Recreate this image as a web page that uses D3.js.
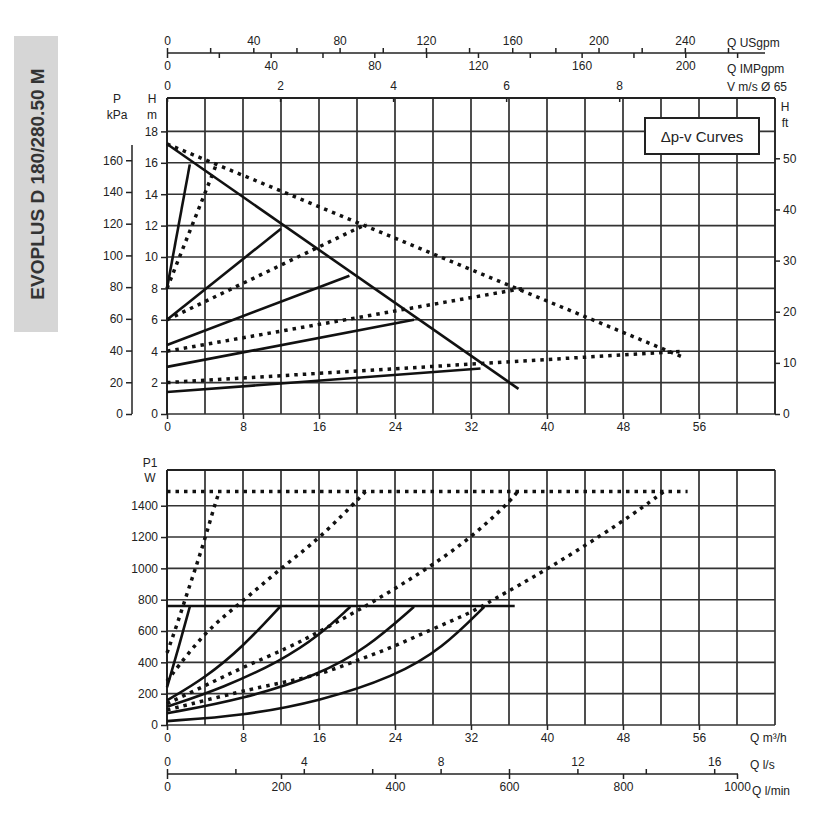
<!DOCTYPE html>
<html lang="en">
<head>
<meta charset="UTF-8">
<title>EVOPLUS D 180/280.50 M</title>
<script src="https://d3js.org/d3.v7.min.js"></script>
<style>
  body { margin: 0; background: #fff; font-family: "Liberation Sans", Arial, sans-serif; }
  text { fill: #222; }
  .tick text { font-size: 12px; }
</style>
</head>
<body>
<svg id="chart" width="840" height="840"></svg>
<script>
// ---- data ----
var maxHead = [[0, 17.2], [37, 1.6]];
var maxHeadDotted = [[0, 17.2], [54.4, 3.6]];
var headSolid = [
  [[0, 8], [2.4, 15.9]],
  [[0, 6], [12, 11.8]],
  [[0, 4.4], [19.2, 8.8]],
  [[0, 3.0], [26, 6.0]],
  [[0, 1.4], [33, 2.9]]
];
var headDotted = [
  [[0, 8], [5.2, 15.9]],
  [[0, 6], [21, 12.1]],
  [[0, 4], [37.5, 8.0]],
  [[0, 2], [54.4, 4.0]]
];
var powerMax = [[0, 760], [36.6, 760]];
var powerMaxDotted = [[0, 1490], [54.8, 1490]];
var powerSolid = [
  [[0, 240], [1.2, 490], [2.4, 755]],
  [[0, 157], [4, 300], [8, 500], [11.9, 755]],
  [[0, 116], [6, 240], [12, 410], [16, 570], [19.3, 755]],
  [[0, 75], [8, 165], [16, 320], [21, 490], [26, 755]],
  [[0, 25], [8, 60], [16, 150], [24, 310], [29, 490], [33.4, 755]]
];
var powerDotted = [
  [[0, 460], [1, 630], [2, 820], [3, 1000], [4, 1190], [5, 1400], [5.5, 1490]],
  [[0, 280], [4, 600], [8, 790], [12, 1003], [16, 1186], [20.9, 1490]],
  [[0, 137], [4, 250], [8, 370], [12.8, 493], [16, 595], [20, 727], [24, 870], [28, 1023], [32, 1196], [36, 1420], [36.9, 1490]],
  [[0, 96], [8, 218], [12, 269], [16, 320], [20, 412], [24, 503], [28, 615], [32, 717], [34, 789], [40, 992], [48, 1298], [52.3, 1490]]
];
var qTicks = [0, 8, 16, 24, 32, 40, 48, 56];
var usgpmTicks = [0, 40, 80, 120, 160, 200, 240];
var impTicks = [0, 40, 80, 120, 160, 200];
var velTicks = [0, 2, 4, 6, 8];
var hTicks = [0, 2, 4, 6, 8, 10, 12, 14, 16, 18];
var kpaTicks = [0, 20, 40, 60, 80, 100, 120, 140, 160];
var ftTicks = [0, 10, 20, 30, 40, 50];
var pTicks = [0, 200, 400, 600, 800, 1000, 1200, 1400];
var lsTicks = [0, 4, 8, 12, 16];
var lminTicks = [0, 200, 400, 600, 800, 1000];

// ---- layout ----
var svg = d3.select("#chart");
var L = 167, R = 775;
var top1 = 98, bot1 = 414, top2 = 470, bot2 = 725;
var fmt = d3.format("d");

var x = d3.scaleLinear().domain([0, 64]).range([L, R]);
var yH = d3.scaleLinear().domain([0, 20]).range([bot1, top1 + 2]);
var yKpa = d3.scaleLinear().domain([0, 20 * 9.9]).range([bot1, top1 + 2]);
var yFt = d3.scaleLinear().domain([0, 20 * 3.07]).range([bot1, top1 + 2]);
var yP = d3.scaleLinear().domain([0, 1628]).range([bot2, top2]);
var xUs = d3.scaleLinear().domain([0, 64 * 4.403]).range([L, R]);
var xImp = d3.scaleLinear().domain([0, 64 * 3.666]).range([L, R]);
var xVel = d3.scaleLinear().domain([0, 64 / 5.95]).range([L, R]);
var xLs = d3.scaleLinear().domain([0, 64 / 3.6]).range([L, R]);
var xLmin = d3.scaleLinear().domain([0, 64 / 0.06]).range([L, R]);

// title box on the left
svg.append("rect").attr("x", 14).attr("y", 36).attr("width", 44).attr("height", 296).attr("fill", "#d6d6d6");
svg.append("text").attr("transform", "translate(44,184) rotate(-90)")
  .attr("text-anchor", "middle").style("font-size", "19px").style("font-weight", "bold")
  .style("fill", "#333").text("EVOPLUS D 180/280.50 M");

function grid(yScale, yTickVals, y0, y1) {
  var g = svg.append("g");
  d3.range(0, 65, 4).forEach(function (q) {
    g.append("line").attr("x1", x(q)).attr("x2", x(q)).attr("y1", y0).attr("y2", y1)
      .attr("stroke", "#222").attr("stroke-width", 1.6);
  });
  yTickVals.forEach(function (v) {
    g.append("line").attr("x1", L).attr("x2", R).attr("y1", yScale(v)).attr("y2", yScale(v))
      .attr("stroke", "#333").attr("stroke-width", 1.6);
  });
  g.append("line").attr("x1", L).attr("x2", R).attr("y1", y0).attr("y2", y0)
    .attr("stroke", "#222").attr("stroke-width", 2);
}
grid(yH, hTicks, top1, bot1);
grid(yP, pTicks, top2, bot2);

function styleAxis(g) {
  g.selectAll("path").attr("stroke", "#222").attr("stroke-width", 1.5);
  g.selectAll("line").attr("stroke", "#222").attr("stroke-width", 1.5);
  g.selectAll("text").style("font-size", "12px").style("fill", "#222");
}

// top chart axes
svg.append("g").attr("transform", "translate(0," + bot1 + ")")
  .call(d3.axisBottom(x).tickValues(qTicks).tickSize(5).tickFormat(fmt)).call(styleAxis)
  .select(".domain").remove();
svg.append("g").attr("transform", "translate(" + L + ",0)")
  .call(d3.axisLeft(yH).tickValues(hTicks).tickSize(6).tickFormat(fmt)).call(styleAxis)
  .select(".domain").remove();
svg.append("g").attr("transform", "translate(132,0)")
  .call(d3.axisLeft(yKpa).tickValues(kpaTicks).tickSize(6).tickSizeOuter(0).tickFormat(fmt)).call(styleAxis)
  .select(".domain").attr("d", "M0," + bot1 + "V145");
svg.append("g").attr("transform", "translate(" + R + ",0)")
  .call(d3.axisRight(yFt).tickValues(ftTicks).tickSize(5).tickFormat(fmt)).call(styleAxis)
  .select(".domain").attr("d", "M0," + bot1 + "V" + top1);

// flow axes above top chart
var gUs = svg.append("g").attr("transform", "translate(0,53)")
  .call(d3.axisTop(xUs).tickValues(d3.range(0, 261, 20)).tickSize(5).tickSizeOuter(0)
    .tickFormat(function (d) { return usgpmTicks.indexOf(d) >= 0 ? d : ""; })).call(styleAxis);
gUs.select(".domain").attr("d", "M" + L + ",0H" + (R - 10));
var gImp = svg.append("g").attr("transform", "translate(0,53)")
  .call(d3.axisBottom(xImp).tickValues(d3.range(0, 221, 20)).tickSize(5).tickSizeOuter(0)
    .tickFormat(function (d) { return impTicks.indexOf(d) >= 0 ? d : ""; })).call(styleAxis);
gImp.select(".domain").remove();
svg.append("g").attr("transform", "translate(0," + top1 + ")")
  .call(d3.axisTop(xVel).tickValues(velTicks).tickSize(-4).tickPadding(8).tickFormat(fmt)).call(styleAxis)
  .select(".domain").remove();

// bottom chart axes
svg.append("g").attr("transform", "translate(0," + bot2 + ")")
  .call(d3.axisBottom(x).tickValues(qTicks).tickSize(5).tickFormat(fmt)).call(styleAxis)
  .select(".domain").remove();
svg.append("g").attr("transform", "translate(" + L + ",0)")
  .call(d3.axisLeft(yP).tickValues(pTicks).tickSize(6).tickFormat(fmt)).call(styleAxis)
  .select(".domain").remove();
svg.append("line").attr("x1", L).attr("x2", L).attr("y1", top2).attr("y2", bot2).attr("stroke", "#222").attr("stroke-width", 2);
svg.append("line").attr("x1", L).attr("x2", L).attr("y1", top1).attr("y2", bot1).attr("stroke", "#222").attr("stroke-width", 2);
var gLs = svg.append("g").attr("transform", "translate(0,774)")
  .call(d3.axisTop(xLs).tickValues(d3.range(0, 17, 2)).tickSize(5).tickSizeOuter(0)
    .tickFormat(function (d) { return lsTicks.indexOf(d) >= 0 ? d : ""; })).call(styleAxis);
gLs.select(".domain").attr("d", "M" + L + ",0H738");
svg.append("g").attr("transform", "translate(0,774)")
  .call(d3.axisBottom(xLmin).tickValues(lminTicks).tickSize(5).tickFormat(fmt)).call(styleAxis)
  .select(".domain").remove();

// unit labels
function label(tx, ty, s, anchor) {
  svg.append("text").attr("x", tx).attr("y", ty).attr("text-anchor", anchor || "start")
    .style("font-size", "12px").text(s);
}
label(727, 47, "Q USgpm");
label(727, 73, "Q IMPgpm");
label(727, 91, "V m/s Ø 65");
label(117, 103, "P", "middle"); label(117, 119, "kPa", "middle");
label(152, 103, "H", "middle"); label(152, 119, "m", "middle");
label(785, 111, "H", "middle"); label(785, 127, "ft", "middle");
label(750, 742, "Q m³/h");
label(750, 769, "Q l/s");
label(752, 795, "Q l/min");
label(150, 467, "P1", "middle"); label(150, 482, "W", "middle");

// legend box
svg.append("rect").attr("x", 645).attr("y", 118).attr("width", 114).attr("height", 36)
  .attr("fill", "#fff").attr("stroke", "#222").attr("stroke-width", 2);
svg.append("text").attr("x", 702).attr("y", 142).attr("text-anchor", "middle")
  .style("font-size", "15px").text("Δp-v Curves");

// curves
var lineH = d3.line().x(function (d) { return x(d[0]); }).y(function (d) { return yH(d[1]); });
var lineP = d3.line().curve(d3.curveBasis).x(function (d) { return x(d[0]); }).y(function (d) { return yP(d[1]); });

function draw(gen, pts, dotted) {
  svg.append("path").attr("d", gen(pts)).attr("fill", "none").attr("stroke", "#111")
    .attr("stroke-width", dotted ? 3.5 : 2.6)
    .attr("stroke-dasharray", dotted ? "3.5,5" : null);
}
draw(lineH, maxHead, false);
draw(lineH, maxHeadDotted, true);
headSolid.forEach(function (c) { draw(lineH, c, false); });
headDotted.forEach(function (c) { draw(lineH, c, true); });
draw(lineP, powerMax, false);
draw(lineP, powerMaxDotted, true);
powerSolid.forEach(function (c) { draw(lineP, c, false); });
powerDotted.forEach(function (c) { draw(lineP, c, true); });
</script>
</body>
</html>
